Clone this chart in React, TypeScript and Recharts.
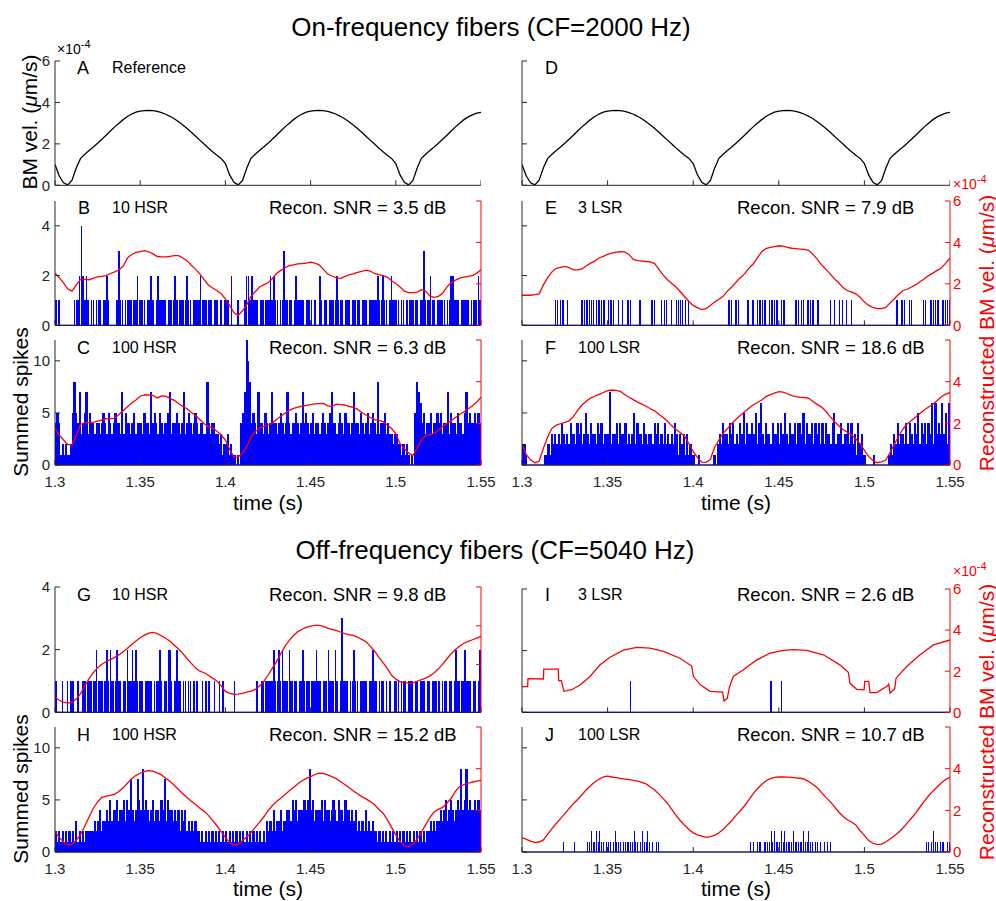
import React from 'react'
import { Bar, ComposedChart, Line, ReferenceLine, XAxis, YAxis } from 'recharts'

const FONT = '"Liberation Sans", Arial, Helvetica, sans-serif'
const BLUE = '#0000ff'
const RED = '#ff0000'
const INK = '#262626'

const timeTicks = [1.3, 1.35, 1.4, 1.45, 1.5, 1.55]

// BM velocity (x1e-4 um/s), sampled every 2.5 ms from 1.3 s
const bmRef = [
  1.0, 0.45, 0.12, 0.02, 0.25, 0.85, 1.3, 1.5, 1.68, 1.85,
  2.03, 2.22, 2.42, 2.62, 2.82, 3.0, 3.17, 3.32, 3.44, 3.53,
  3.58, 3.6, 3.61, 3.6, 3.57, 3.51, 3.43, 3.33, 3.21, 3.07,
  2.91, 2.74, 2.56, 2.37, 2.18, 1.99, 1.8, 1.62, 1.45, 1.3,
  1.05, 0.5, 0.14, 0.02, 0.22, 0.82, 1.3, 1.5, 1.68, 1.85,
  2.03, 2.22, 2.42, 2.62, 2.82, 3.0, 3.17, 3.32, 3.44, 3.53,
  3.58, 3.6, 3.61, 3.6, 3.57, 3.51, 3.43, 3.33, 3.21, 3.07,
  2.91, 2.74, 2.56, 2.37, 2.18, 1.99, 1.8, 1.62, 1.45, 1.3,
  1.05, 0.5, 0.14, 0.02, 0.22, 0.82, 1.3, 1.5, 1.68, 1.85,
  2.03, 2.22, 2.42, 2.62, 2.82, 3.0, 3.17, 3.3, 3.4, 3.48, 3.52,
]

// reconstructed BM velocity (x1e-4), same 2.5 ms grid
const reconB = [
  2.52, 2.3, 2.05, 1.75, 1.65, 1.95, 2.22, 2.22, 2.2, 2.28,
  2.34, 2.36, 2.4, 2.5, 2.58, 2.68, 2.85, 3.25, 3.42, 3.52,
  3.56, 3.6, 3.55, 3.45, 3.32, 3.3, 3.3, 3.33, 3.36, 3.36,
  3.25, 3.12, 2.9, 2.7, 2.48, 2.2, 1.95, 1.8, 1.68, 1.52,
  1.28, 0.95, 0.6, 0.48, 0.7, 0.98, 1.4, 1.62, 1.85, 1.95,
  2.05, 2.25, 2.5, 2.65, 2.78, 2.88, 2.92, 2.96, 2.98, 3.0,
  3.05, 3.0, 2.92, 2.7, 2.48, 2.38, 2.3, 2.25, 2.35, 2.44,
  2.48, 2.55, 2.6, 2.66, 2.62, 2.5, 2.45, 2.4, 2.33, 2.15,
  2.02, 1.85, 1.65, 1.58, 1.58, 1.6, 1.72, 1.65, 1.42, 1.35,
  1.4, 1.55, 1.85, 2.05, 2.18, 2.28, 2.32, 2.36, 2.4, 2.52, 2.68,
]
const reconC = [
  1.76, 1.45, 1.2, 0.98, 0.98, 1.4, 1.95, 2.04, 2.03, 2.06,
  2.11, 2.16, 2.22, 2.23, 2.24, 2.42, 2.6, 2.8, 2.98, 3.12,
  3.3, 3.36, 3.36, 3.34, 3.22, 3.32, 3.3, 3.2, 3.1, 2.95,
  2.82, 2.7, 2.52, 2.38, 2.18, 1.98, 1.85, 1.78, 1.62, 1.45,
  1.2, 0.75, 0.38, 0.38, 0.58, 0.88, 1.35, 1.6, 1.78, 1.85,
  1.92, 2.0, 2.18, 2.34, 2.48, 2.62, 2.72, 2.78, 2.82, 2.86,
  2.9, 2.93, 2.95, 2.96, 2.84, 2.8, 2.92, 2.9, 2.88, 2.82,
  2.77, 2.68, 2.52, 2.4, 2.28, 2.18, 2.14, 2.08, 1.92, 1.75,
  1.5, 1.02, 0.78, 0.58, 0.45, 0.8, 1.2, 1.4, 1.46, 1.52,
  1.68, 1.85, 2.0, 2.12, 2.28, 2.42, 2.56, 2.7, 2.84, 3.02, 3.25,
]
const reconE = [
  1.45, 1.45, 1.45, 1.48, 1.52, 1.95, 2.3, 2.58, 2.75, 2.8,
  2.84, 2.78, 2.68, 2.68, 2.72, 2.86, 3.0, 3.1, 3.25, 3.33,
  3.42, 3.48, 3.53, 3.55, 3.54, 3.42, 3.18, 3.12, 3.1, 3.08,
  3.06, 2.98, 2.7, 2.42, 2.2, 2.02, 1.85, 1.62, 1.38, 1.15,
  0.96, 0.85, 0.76, 0.8, 0.96, 1.12, 1.26, 1.4, 1.65, 1.85,
  2.08, 2.3, 2.48, 2.75, 2.96, 3.25, 3.55, 3.7, 3.76, 3.8,
  3.84, 3.82, 3.76, 3.72, 3.7, 3.68, 3.66, 3.62, 3.42, 3.18,
  2.92, 2.7, 2.48, 2.24, 2.05, 1.82, 1.68, 1.6, 1.52, 1.35,
  1.12, 0.96, 0.86, 0.8, 0.8, 0.86, 1.08, 1.28, 1.5, 1.68,
  1.74, 1.85, 1.96, 2.1, 2.25, 2.4, 2.52, 2.65, 2.78, 3.0, 3.25,
]
const reconF = [
  0.98, 0.5, 0.25, 0.11, 0.18, 0.8, 1.35, 1.76, 1.91, 1.98,
  2.05, 2.12, 2.32, 2.62, 2.88, 3.06, 3.21, 3.3, 3.39, 3.48,
  3.57, 3.6, 3.58, 3.53, 3.38, 3.25, 3.14, 3.02, 2.92, 2.82,
  2.7, 2.6, 2.42, 2.28, 2.1, 1.88, 1.7, 1.55, 1.38, 1.02,
  0.65, 0.35, 0.14, 0.13, 0.26, 0.85, 1.2, 1.52, 1.75, 2.0,
  2.2, 2.38, 2.56, 2.72, 2.88, 3.0, 3.12, 3.28, 3.38, 3.45,
  3.52, 3.5, 3.42, 3.33, 3.28, 3.25, 3.24, 3.2, 3.05, 2.9,
  2.78, 2.58, 2.32, 2.08, 1.88, 1.7, 1.58, 1.45, 1.25, 1.02,
  0.7, 0.4, 0.22, 0.11, 0.15, 0.24, 0.6, 1.0, 1.38, 1.72,
  1.98, 2.14, 2.3, 2.48, 2.64, 2.78, 2.92, 3.1, 3.28, 3.4, 3.47,
]
const reconG = [
  0.32, 0.16, 0.06, 0.01, 0.06, 0.22, 0.5, 0.9, 1.28, 1.58,
  1.84, 2.02, 2.16, 2.26, 2.37, 2.5, 2.66, 2.84, 3.04, 3.22,
  3.38, 3.52, 3.62, 3.66, 3.6, 3.48, 3.36, 3.2, 3.0, 2.8,
  2.58, 2.3, 2.06, 1.82, 1.66, 1.58, 1.45, 1.3, 1.16, 0.9,
  0.62, 0.52, 0.46, 0.48, 0.52, 0.58, 0.63, 0.72, 0.9, 1.12,
  1.45, 1.8, 2.15, 2.55, 2.95, 3.25, 3.5, 3.7, 3.82, 3.92,
  3.98, 4.02, 4.02, 3.97, 3.88, 3.82, 3.76, 3.68, 3.6, 3.55,
  3.5, 3.42, 3.3, 3.18, 2.95, 2.7, 2.38, 2.1, 1.8, 1.45,
  1.25, 1.12, 1.08, 1.04, 1.06, 1.14, 1.22, 1.3, 1.42, 1.58,
  1.78, 2.02, 2.3, 2.56, 2.78, 2.96, 3.1, 3.2, 3.28, 3.36, 3.45,
]
const reconH = [
  0.96, 0.7, 0.48, 0.34, 0.36, 0.56, 0.84, 1.25, 1.68, 2.1,
  2.4, 2.62, 2.68, 2.72, 2.78, 2.9, 3.08, 3.3, 3.52, 3.68,
  3.78, 3.86, 3.91, 3.88, 3.8, 3.7, 3.54, 3.38, 3.2, 3.0,
  2.8, 2.62, 2.44, 2.28, 2.1, 1.95, 1.76, 1.52, 1.26, 0.98,
  0.7, 0.45, 0.33, 0.36, 0.55, 0.72, 0.93, 1.18, 1.42, 1.68,
  1.98, 2.22, 2.42, 2.58, 2.76, 2.94, 3.1, 3.28, 3.42, 3.53,
  3.62, 3.72, 3.78, 3.77, 3.7, 3.62, 3.52, 3.38, 3.24, 3.1,
  2.94, 2.8, 2.66, 2.55, 2.42, 2.28, 2.05, 1.86, 1.55, 1.18,
  0.82, 0.5, 0.3, 0.26, 0.36, 0.62, 0.95, 1.3, 1.66, 1.92,
  2.05, 2.14, 2.34, 2.58, 2.92, 3.14, 3.24, 3.3, 3.36, 3.4, 3.44,
]
const reconJ = [
  0.69, 0.61, 0.52, 0.46, 0.48, 0.58, 0.86, 1.12, 1.37, 1.6,
  1.84, 2.08, 2.32, 2.52, 2.75, 2.98, 3.18, 3.36, 3.5, 3.61,
  3.64, 3.6, 3.57, 3.53, 3.5, 3.47, 3.44, 3.4, 3.34, 3.27,
  3.12, 2.98, 2.78, 2.56, 2.33, 2.05, 1.76, 1.5, 1.28, 1.08,
  0.92, 0.82, 0.76, 0.7, 0.74, 0.8, 0.92, 1.08, 1.3, 1.5,
  1.76, 1.98, 2.22, 2.5, 2.8, 3.04, 3.24, 3.42, 3.52, 3.58,
  3.6, 3.6, 3.59, 3.58, 3.56, 3.54, 3.5, 3.38, 3.24, 3.08,
  2.85, 2.62, 2.42, 2.18, 1.92, 1.72, 1.55, 1.44, 1.3, 1.02,
  0.8, 0.55, 0.42, 0.35, 0.38, 0.48, 0.62, 0.78, 0.95, 1.15,
  1.4, 1.62, 1.88, 2.16, 2.44, 2.7, 2.92, 3.12, 3.32, 3.48, 3.59,
]
// panel I has step jumps, so it keeps its own times
const reconI: [number, number][] = [
  [1.3, 1.25], [1.3033, 1.25], [1.3035, 1.64], [1.3125, 1.62], [1.3127, 2.1],
  [1.3212, 2.1], [1.3214, 1.54], [1.323, 1.54], [1.3245, 1.02], [1.329, 1.1],
  [1.3339, 1.33], [1.3397, 1.74], [1.3456, 2.31], [1.3514, 2.68], [1.3592, 3.02],
  [1.367, 3.16], [1.3748, 3.12], [1.3826, 2.96], [1.3923, 2.63], [1.3991, 2.25],
  [1.4001, 1.75], [1.404, 1.35], [1.4098, 1.02], [1.4172, 0.98], [1.418, 0.55],
  [1.4199, 0.68], [1.4211, 1.2], [1.4234, 1.74], [1.4293, 2.07], [1.4371, 2.55],
  [1.4449, 2.88], [1.4526, 3.01], [1.4585, 3.05], [1.4663, 3.01], [1.476, 2.8],
  [1.4857, 2.31], [1.4906, 1.95], [1.4916, 1.41], [1.4955, 1.12], [1.4998, 1.09],
  [1.5002, 1.5], [1.5025, 1.5], [1.5033, 0.96], [1.5072, 0.96], [1.5134, 1.28],
  [1.5142, 1.38], [1.515, 0.93], [1.5177, 1.15], [1.5185, 1.66], [1.5247, 2.23],
  [1.5325, 2.8], [1.5403, 3.28], [1.55, 3.52],
]

// summed spikes per 1 ms bin (base-36 digit per bin, 25 bins per chunk)
const spikesB = [
  '1010000000011124212101101', '1101121000013110111101121', '1110112101211110111121011',
  '1121101111211101101110101', '1102000100012212111011111', '1212110113111101211110111',
  '1010021011011112111011101', '1111011101111121121101211', '1101101011111011311121101',
  '1111011221110111110111121',
]
const spikesC = [
  '4541212112585473457354434', '4345435434544373544345344', '4354437454354344573445434',
  '7345434543443384344332312', '231211010457ca84543744354', '3474434543474344543474543',
  '4534434543457443454354434', '7443543453454383445343323', '3221212101058764534453445',
  '4534473544354435745445454',
]
const spikesE = [
  '0000000000000000000', '11011101', '0000000', '1111111', '1011111101111',
  '0010100111000', '01100000111000', '101100100111101010', '000000000000000000000',
  '1110111', '0000', '11011', '011111101111110111', '00000', '111011011111011',
  '000000', '10100101010010', '000000000000000000000000', '110111', '00', '11',
  '000000', '11', '00', '111111011111',
]
const spikesF = [
  '2210000000000112132323243', '2324332434235324332434233', '3723342433423235243324323',
  '3243423242323243132313121', '1001000000001023243324342', '3243524334352463243324334',
  '2435324334244352433424342', '4243324523342334242314231', '1000010000000012132423324',
  '2432435243424362634363526',
]
const spikesG = [
  '1000100101100100110111112', '1110121211121101121121211', '1101111011121011221012110',
  '1101101010010101001001010', '0000010000000000001001111', '1112112121112111101121111',
  '1112110111211121013111011', '2110111101121101110101001', '1101110111011011101101110',
  '1011101101211112111011012',
]
const spikesH = [
  '2121212121213121212222232', '3423343534453445354743475', '4845434534435473544343424',
  '3423232322121212121212121', '2121212121212121212121213', '2324233423344354534445458',
  '4534445354434543544354434', '3423232423232212121212121', '2121212121212121212232323',
  '3434534543454845845445454',
]
const spikesJ = [
  '0000000000000000000000001', '0000010000000112112121101', '1101211101111112110121121',
  '0101100000000000000000000', '0000000000000000000000000', '0000000010101110111121211',
  '1212111121111121121101101', '0101010000000000000000000', '0000000000000000000000000',
  '0000000000011012110111011',
]
const spikeTimesI = [1.3635, 1.4455, 1.4515]

type Pt = { t: number; v: number }
type Sp = { t: number; n: number }

const toCurve = (vals: number[]): Pt[] => vals.map((v, i) => ({ t: 1.3 + i * 0.0025, v }))
const toSpikes = (parts: string[]): Sp[] =>
  parts
    .join('')
    .split('')
    .map((c, k) => ({ t: 1.3 + (k + 0.5) * 0.001, n: parseInt(c, 36) }))
    .filter((d) => d.n > 0)

const spikeShape = (w: number) => (props: any) => {
  const { x, y, width, height } = props
  if (!height || height <= 0) return <g />
  return (
    <rect
      x={x + width / 2 - w / 2}
      y={y}
      width={w}
      height={height}
      fill={BLUE}
      shapeRendering="crispEdges"
    />
  )
}

interface PanelProps {
  x: number
  y: number
  w: number
  h: number
  curve: Pt[]
  color: string
  spikes?: Sp[]
  yMax: number
  yTicks: number[]
  yLabels?: boolean
  right?: { domain: [number, number]; ticks: number[]; labels: number[] }
  xLabels?: boolean
  barW?: number
}

const TOP = 12

function Panel({ x, y, w, h, curve, color, spikes, yMax, yTicks, yLabels, right, xLabels, barW = 1.5 }: PanelProps) {
  const width = w + 50 + (right ? 50 : 0)
  return (
    <div style={{ position: 'absolute', left: x - 50, top: y - TOP }}>
      <ComposedChart
        width={width}
        height={h + TOP + 30}
        data={spikes ?? curve}
        margin={{ top: TOP, right: 0, bottom: 0, left: 0 }}
      >
        <XAxis
          dataKey="t"
          type="number"
          domain={[1.3, 1.55]}
          ticks={timeTicks}
          allowDataOverflow
          interval={0}
          height={30}
          stroke={INK}
          tickSize={-5}
          tickMargin={16}
          tick={{ fill: INK, fontSize: 15 }}
          tickFormatter={(v) => (xLabels ? String(v) : '')}
        />
        <YAxis
          yAxisId="L"
          width={50}
          domain={[0, yMax]}
          ticks={yTicks}
          allowDataOverflow
          interval={0}
          stroke={INK}
          tickSize={-5}
          tickMargin={10}
          tick={{ fill: INK, fontSize: 15 }}
          tickFormatter={(v) => (yLabels ? String(v) : '')}
        />
        {right && (
          <YAxis
            yAxisId="R"
            orientation="right"
            width={50}
            domain={right.domain}
            ticks={right.ticks}
            allowDataOverflow
            interval={0}
            stroke={RED}
            tickSize={-5}
            tickMargin={8}
            tick={{ fill: RED, fontSize: 15 }}
            tickFormatter={(v) => (right.labels.includes(v) ? String(v) : '')}
          />
        )}
        {spikes && (
          <Bar
            yAxisId="L"
            dataKey="n"
            barSize={1}
            shape={spikeShape(barW)}
            isAnimationActive={false}
          />
        )}
        {spikes && <ReferenceLine yAxisId="L" y={0} stroke={BLUE} strokeWidth={1.2} />}
        <Line
          yAxisId={right ? 'R' : 'L'}
          data={spikes ? curve : undefined}
          dataKey="v"
          type="linear"
          stroke={color}
          strokeWidth={1.3}
          dot={false}
          isAnimationActive={false}
        />
      </ComposedChart>
    </div>
  )
}

function Txt({ x, y, size, children, color = '#000', center = false }: any) {
  return (
    <div
      style={{
        position: 'absolute',
        left: x,
        top: y - 0.49 * size,
        fontSize: size,
        lineHeight: `${size}px`,
        color,
        whiteSpace: 'nowrap',
        transform: center ? 'translateX(-50%)' : undefined,
      }}
    >
      {children}
    </div>
  )
}

function VTxt({ x, y, size, children, color = '#000' }: any) {
  return (
    <div
      style={{
        position: 'absolute',
        left: x,
        top: y,
        fontSize: size,
        lineHeight: `${size}px`,
        color,
        whiteSpace: 'nowrap',
        transform: 'translate(-50%, -50%) rotate(-90deg)',
      }}
    >
      {children}
    </div>
  )
}

function Exp({ x, y, color = '#000' }: any) {
  return (
    <Txt x={x} y={y} size={14} color={color}>
      ×10<span style={{ fontSize: 11, position: 'relative', top: -6 }}>-4</span>
    </Txt>
  )
}

const LX = 55
const LW = 426
const RX = 522
const RW = 428
const redAxis = (labels: number[]) => ({ domain: [0, 6] as [number, number], ticks: [0, 2, 4, 6], labels })

export default function App() {
  const bm = toCurve(bmRef)
  const mu = <i>μ</i>
  return (
    <div
      style={{
        position: 'absolute',
        left: 0,
        top: 0,
        width: 996,
        height: 901,
        background: '#fff',
        overflow: 'hidden',
        fontFamily: FONT,
      }}
    >
      {/* on-frequency */}
      <Panel x={LX} y={60.7} w={LW} h={124.3} curve={bm} color="#000" yMax={6} yTicks={[0, 2, 4, 6]} yLabels />
      <Panel x={RX} y={60.7} w={RW} h={124.3} curve={bm} color="#000" yMax={6} yTicks={[0, 2, 4, 6]} />
      <Panel
        x={LX} y={200.7} w={LW} h={124.3} curve={toCurve(reconB)} color={RED}
        spikes={toSpikes(spikesB)} yMax={5} yTicks={[0, 2, 4]} yLabels right={redAxis([])}
      />
      <Panel
        x={RX} y={200.7} w={RW} h={124.3} curve={toCurve(reconE)} color={RED}
        spikes={toSpikes(spikesE)} yMax={5} yTicks={[0, 2, 4]} right={redAxis([0, 2, 4, 6])} barW={1}
      />
      <Panel
        x={LX} y={340} w={LW} h={125} curve={toCurve(reconC)} color={RED}
        spikes={toSpikes(spikesC)} yMax={12} yTicks={[0, 5, 10]} yLabels right={redAxis([])} xLabels barW={2.2}
      />
      <Panel
        x={RX} y={340} w={RW} h={125} curve={toCurve(reconF)} color={RED}
        spikes={toSpikes(spikesF)} yMax={12} yTicks={[0, 5, 10]} right={redAxis([0, 2, 4])} xLabels barW={2.2}
      />

      {/* off-frequency */}
      <Panel
        x={LX} y={586.7} w={LW} h={125.3} curve={toCurve(reconG)} color={RED}
        spikes={toSpikes(spikesG)} yMax={4} yTicks={[0, 2, 4]} yLabels
        right={{ domain: [-0.46, 6], ticks: [2, 4, 6], labels: [] }}
      />
      <Panel
        x={RX} y={588.5} w={RW} h={123.3} curve={reconI.map(([t, v]) => ({ t, v }))} color={RED}
        spikes={spikeTimesI.map((t) => ({ t, n: 1 }))} yMax={4} yTicks={[0, 2, 4]} right={redAxis([0, 2, 4, 6])}
        barW={1.5}
      />
      <Panel
        x={LX} y={726.7} w={LW} h={125} curve={toCurve(reconH)} color={RED}
        spikes={toSpikes(spikesH)} yMax={12} yTicks={[0, 5, 10]} yLabels right={redAxis([])} xLabels barW={2.2}
      />
      <Panel
        x={RX} y={726.7} w={RW} h={125} curve={toCurve(reconJ)} color={RED}
        spikes={toSpikes(spikesJ)} yMax={12} yTicks={[0, 5, 10]} right={redAxis([0, 2, 4])} xLabels barW={1}
      />

      {/* titles */}
      <Txt x={491} y={27} size={26} center>On-frequency fibers (CF=2000 Hz)</Txt>
      <Txt x={495} y={550} size={26} center>Off-frequency fibers (CF=5040 Hz)</Txt>

      {/* axis labels */}
      <VTxt x={29} y={122} size={21}>BM vel. ({mu}m/s)</VTxt>
      <VTxt x={20} y={402} size={21}>Summed spikes</VTxt>
      <VTxt x={20} y={789} size={21}>Summed spikes</VTxt>
      <VTxt x={986} y={333} size={21} color={RED}>Reconstructed BM vel. ({mu}m/s)</VTxt>
      <VTxt x={986} y={722} size={21} color={RED}>Reconstructed BM vel. ({mu}m/s)</VTxt>
      <Txt x={268} y={502} size={21} center>time (s)</Txt>
      <Txt x={736} y={502} size={21} center>time (s)</Txt>
      <Txt x={268} y={888} size={21} center>time (s)</Txt>
      <Txt x={736} y={888} size={21} center>time (s)</Txt>
      <Exp x={57} y={49} />
      <Exp x={953} y={184} color={RED} />
      <Exp x={953} y={571} color={RED} />

      {/* panel tags */}
      <Txt x={77} y={68} size={18}>A</Txt>
      <Txt x={112} y={68} size={16}>Reference</Txt>
      <Txt x={545} y={68} size={18}>D</Txt>

      <Txt x={78} y={208} size={18}>B</Txt>
      <Txt x={112} y={208} size={16}>10 HSR</Txt>
      <Txt x={269} y={208} size={18.5}>Recon. SNR = 3.5 dB</Txt>
      <Txt x={545} y={208} size={18}>E</Txt>
      <Txt x={578} y={208} size={16}>3 LSR</Txt>
      <Txt x={737} y={208} size={18.5}>Recon. SNR = 7.9 dB</Txt>

      <Txt x={77} y={348} size={18}>C</Txt>
      <Txt x={112} y={348} size={16}>100 HSR</Txt>
      <Txt x={269} y={348} size={18.5}>Recon. SNR = 6.3 dB</Txt>
      <Txt x={545} y={348} size={18}>F</Txt>
      <Txt x={578} y={348} size={16}>100 LSR</Txt>
      <Txt x={737} y={348} size={18.5}>Recon. SNR = 18.6 dB</Txt>

      <Txt x={77} y={595} size={18}>G</Txt>
      <Txt x={112} y={595} size={16}>10 HSR</Txt>
      <Txt x={269} y={595} size={18.5}>Recon. SNR = 9.8 dB</Txt>
      <Txt x={545} y={595} size={18}>I</Txt>
      <Txt x={578} y={595} size={16}>3 LSR</Txt>
      <Txt x={737} y={595} size={18.5}>Recon. SNR = 2.6 dB</Txt>

      <Txt x={77} y={735} size={18}>H</Txt>
      <Txt x={112} y={735} size={16}>100 HSR</Txt>
      <Txt x={269} y={735} size={18.5}>Recon. SNR = 15.2 dB</Txt>
      <Txt x={545} y={735} size={18}>J</Txt>
      <Txt x={578} y={735} size={16}>100 LSR</Txt>
      <Txt x={737} y={735} size={18.5}>Recon. SNR = 10.7 dB</Txt>
    </div>
  )
}
